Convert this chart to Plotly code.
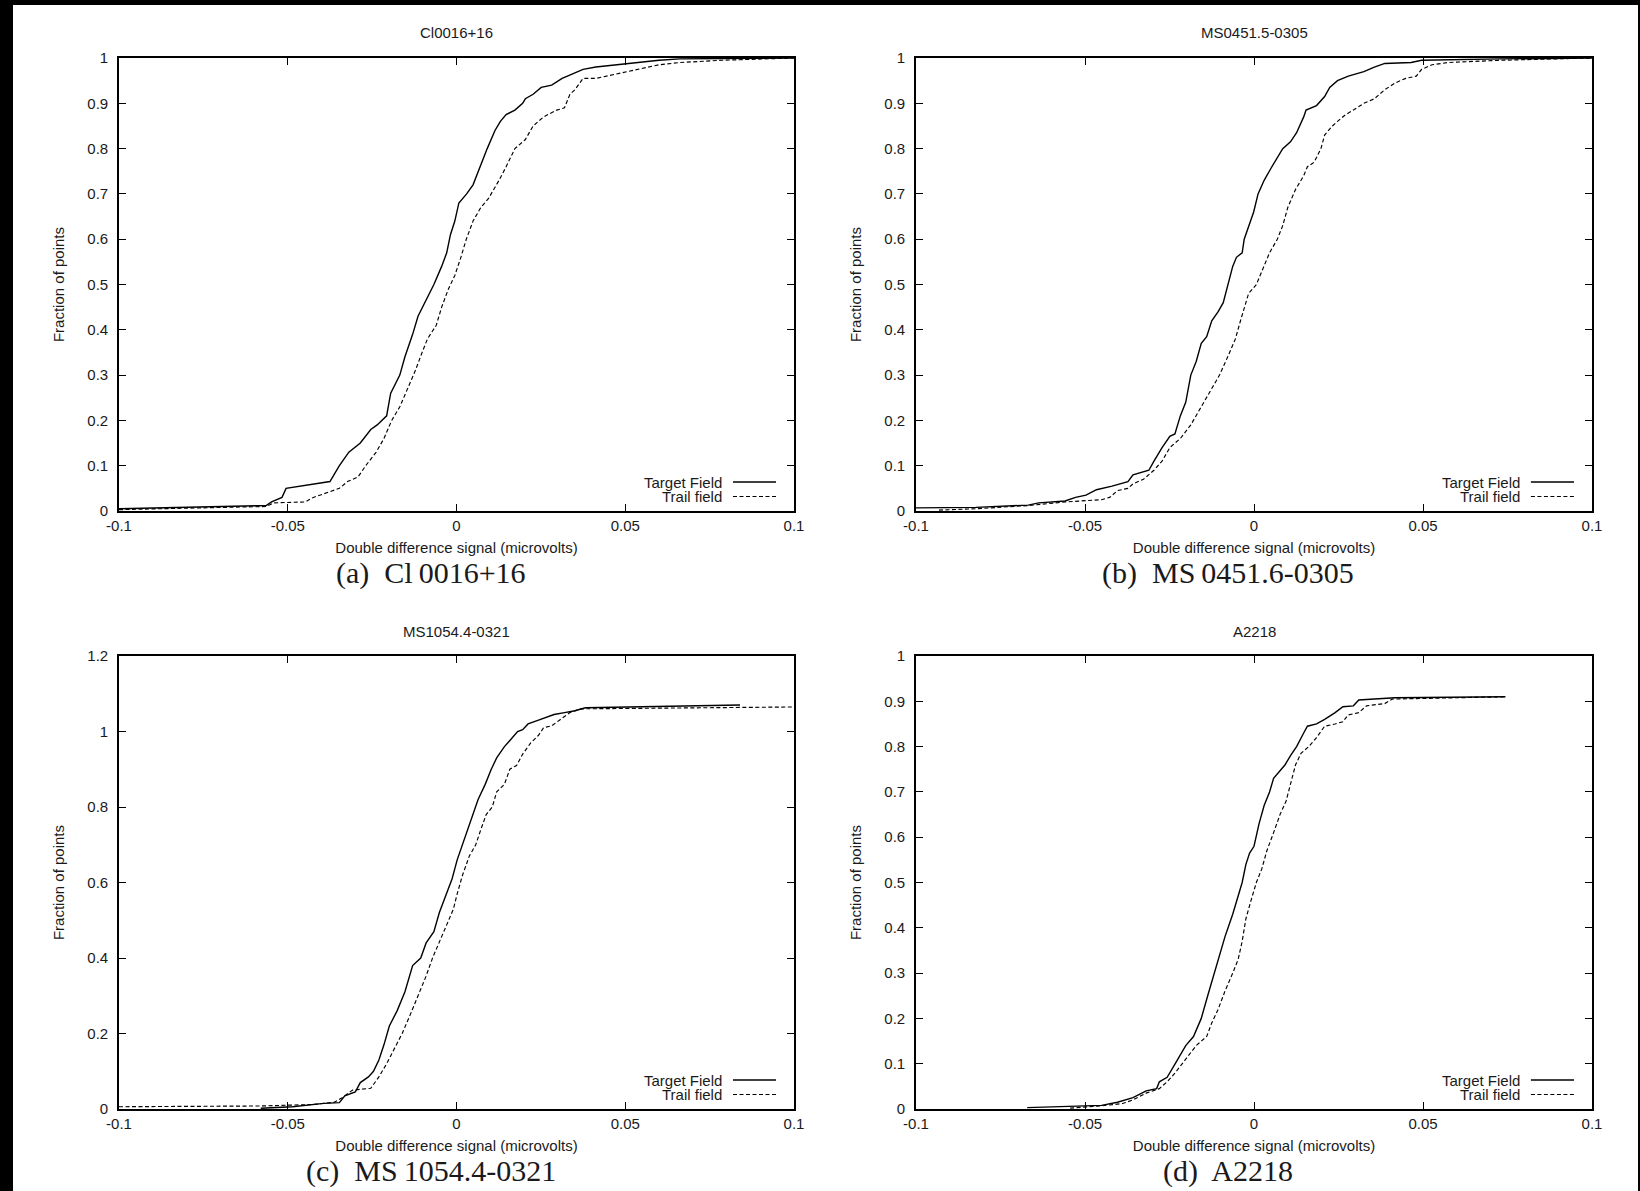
import plotly.graph_objects as go

# ---------------- data ----------------
titles = ["Cl0016+16", "MS0451.5-0305", "MS1054.4-0321", "A2218"]
captions = ["(a)  Cl\u20090016+16", "(b)  MS\u20090451.6-0305", "(c)  MS\u20091054.4-0321", "(d)  A2218"]
series_names = ["Target Field", "Trail field"]
x_title = "Double difference signal (microvolts)"
y_title = "Fraction of points"

# Panel (a) Cl0016+16
a_target_x = [-0.1, -0.0564, -0.0548, -0.0517, -0.0505, -0.0463, -0.0409, -0.0375, -0.0347, -0.0319,
              -0.0285, -0.0254, -0.0235, -0.0207, -0.0195, -0.0168, -0.0153, -0.0130, -0.0114, -0.0086,
              -0.0067, -0.0044, -0.0029, -0.0018, -0.0005, 0.0007, 0.0030, 0.0049, 0.0069, 0.0091,
              0.0114, 0.0130, 0.0147, 0.0173, 0.0196, 0.0204, 0.0227, 0.0251, 0.0282, 0.0313,
              0.0344, 0.0375, 0.0413, 0.0476, 0.0553, 0.0600, 0.0662, 0.1]
a_target_y = [0.005, 0.012, 0.02, 0.03, 0.05, 0.055, 0.06, 0.065, 0.10, 0.13,
              0.15, 0.18, 0.19, 0.21, 0.26, 0.30, 0.34, 0.39, 0.43, 0.47,
              0.50, 0.54, 0.57, 0.61, 0.64, 0.68, 0.70, 0.72, 0.76, 0.80,
              0.84, 0.86, 0.875, 0.885, 0.90, 0.91, 0.92, 0.935, 0.94, 0.955,
              0.965, 0.975, 0.98, 0.985, 0.99, 0.995, 0.998, 1.0]
a_trail_x = [-0.1, -0.0564, -0.0541, -0.0448, -0.0424, -0.0386, -0.0347, -0.0323, -0.0292, -0.0269,
             -0.0238, -0.0215, -0.0192, -0.0168, -0.0145, -0.0122, -0.0102, -0.0086, -0.0060, -0.0044,
             -0.0024, -0.0005, 0.0013, 0.0029, 0.0049, 0.0072, 0.0095, 0.0111, 0.0126, 0.0147,
             0.0173, 0.0204, 0.0227, 0.0258, 0.0297, 0.0320, 0.0336, 0.0351, 0.0375, 0.0413,
             0.0445, 0.0507, 0.0576, 0.0600, 0.0662, 0.0786, 0.1]
a_trail_y = [0.003, 0.01, 0.018, 0.02, 0.03, 0.04, 0.05, 0.065, 0.075, 0.10,
             0.13, 0.16, 0.20, 0.23, 0.27, 0.31, 0.35, 0.38, 0.41, 0.45,
             0.49, 0.52, 0.56, 0.60, 0.64, 0.67, 0.69, 0.71, 0.73, 0.76,
             0.80, 0.82, 0.85, 0.87, 0.885, 0.89, 0.92, 0.93, 0.955, 0.955,
             0.96, 0.97, 0.98, 0.985, 0.99, 0.995, 1.0]

# Panel (b) MS0451.5-0305
b_target_x = [-0.1, -0.0823, -0.0668, -0.0637, -0.0559, -0.0528, -0.0497, -0.0466, -0.0420, -0.0373,
              -0.0358, -0.0311, -0.0296, -0.0272, -0.0249, -0.0234, -0.0218, -0.0202, -0.0187, -0.0171,
              -0.0156, -0.0140, -0.0125, -0.0106, -0.0091, -0.0078, -0.0063, -0.0052, -0.0035, -0.0029,
              -0.0019, -0.0001, 0.0012, 0.0030, 0.0049, 0.0069, 0.0085, 0.0108, 0.0126, 0.0147,
              0.0154, 0.0185, 0.0209, 0.0224, 0.0247, 0.0279, 0.0325, 0.0356, 0.0387, 0.0465,
              0.0496, 0.0729, 0.1]
b_target_y = [0.007, 0.008, 0.013, 0.018, 0.022, 0.03, 0.035, 0.047, 0.055, 0.065,
              0.08, 0.09, 0.11, 0.14, 0.165, 0.17, 0.21, 0.24, 0.30, 0.33,
              0.37, 0.385, 0.42, 0.44, 0.46, 0.50, 0.54, 0.56, 0.57, 0.60,
              0.62, 0.66, 0.70, 0.73, 0.755, 0.78, 0.80, 0.815, 0.835, 0.87,
              0.885, 0.895, 0.915, 0.935, 0.95, 0.96, 0.97, 0.98, 0.988, 0.99,
              0.995, 0.998, 1.0]
b_trail_x = [-0.0932, -0.0823, -0.0668, -0.0559, -0.0451, -0.0427, -0.0404, -0.0373, -0.0358, -0.0327,
             -0.0296, -0.0272, -0.0249, -0.0218, -0.0187, -0.0156, -0.0148, -0.0125, -0.0102, -0.0078,
             -0.0055, -0.0040, -0.0016, 0.0007, 0.0023, 0.0046, 0.0069, 0.0085, 0.0100, 0.0123,
             0.0147, 0.0158, 0.0178, 0.0198, 0.0209, 0.0232, 0.0247, 0.0271, 0.0294, 0.0325,
             0.0356, 0.0387, 0.0418, 0.0449, 0.0480, 0.0496, 0.0527, 0.0573, 0.0729, 0.1]
b_trail_y = [0.002, 0.005, 0.012, 0.02, 0.025, 0.03, 0.045, 0.05, 0.06, 0.07,
             0.09, 0.11, 0.14, 0.16, 0.19, 0.23, 0.24, 0.27, 0.30, 0.34,
             0.38, 0.42, 0.48, 0.50, 0.53, 0.57, 0.60, 0.63, 0.67, 0.71,
             0.74, 0.76, 0.77, 0.80, 0.83, 0.85, 0.86, 0.875, 0.885, 0.90,
             0.91, 0.93, 0.945, 0.955, 0.96, 0.975, 0.985, 0.99, 0.995, 1.0]

# Panel (c) MS1054.4-0321
c_target_x = [-0.0580, -0.0486, -0.0393, -0.0347, -0.0331, -0.0300, -0.0285, -0.0261, -0.0246, -0.0230,
              -0.0215, -0.0199, -0.0176, -0.0153, -0.0130, -0.0106, -0.0090, -0.0067, -0.0051, -0.0029,
              -0.0013, 0.0002, 0.0018, 0.0038, 0.0049, 0.0064, 0.0085, 0.0103, 0.0119, 0.0142,
              0.0162, 0.0181, 0.0196, 0.0212, 0.0243, 0.0289, 0.0320, 0.0351, 0.0382, 0.0507, 0.0840]
c_target_y = [0.002, 0.006, 0.015, 0.017, 0.035, 0.045, 0.07, 0.085, 0.10, 0.13,
              0.17, 0.22, 0.26, 0.31, 0.38, 0.40, 0.44, 0.47, 0.52, 0.57,
              0.61, 0.66, 0.70, 0.75, 0.78, 0.82, 0.86, 0.90, 0.93, 0.96,
              0.98, 1.0, 1.005, 1.02, 1.03, 1.045, 1.05, 1.055, 1.063, 1.065, 1.07]
c_trail_x = [-0.1, -0.0580, -0.0424, -0.0362, -0.0339, -0.0308, -0.0254, -0.0230, -0.0207, -0.0184,
             -0.0161, -0.0137, -0.0114, -0.0091, -0.0071, -0.0052, -0.0029, -0.0009, 0.0002, 0.0018,
             0.0038, 0.0057, 0.0072, 0.0088, 0.0106, 0.0119, 0.0142, 0.0158, 0.0178, 0.0196,
             0.0220, 0.0243, 0.0258, 0.0282, 0.0305, 0.0336, 0.0367, 0.1]
c_trail_y = [0.006, 0.008, 0.012, 0.018, 0.03, 0.05, 0.055, 0.085, 0.12, 0.16,
             0.20, 0.25, 0.30, 0.35, 0.40, 0.44, 0.49, 0.53, 0.57, 0.62,
             0.67, 0.70, 0.74, 0.78, 0.80, 0.84, 0.86, 0.90, 0.91, 0.94,
             0.97, 0.99, 1.01, 1.015, 1.03, 1.05, 1.06, 1.065]

# Panel (d) A2218
d_target_x = [-0.0671, -0.0513, -0.0451, -0.0404, -0.0358, -0.0319, -0.0288, -0.0280, -0.0257, -0.0233,
              -0.0202, -0.0179, -0.0156, -0.0137, -0.0117, -0.0102, -0.0086, -0.0063, -0.0047, -0.0035,
              -0.0024, -0.0013, 0.0000, 0.0015, 0.0030, 0.0046, 0.0058, 0.0074, 0.0092, 0.0108,
              0.0126, 0.0147, 0.0158, 0.0185, 0.0209, 0.0240, 0.0263, 0.0294, 0.0310, 0.0356,
              0.0418, 0.0744]
d_target_y = [0.003, 0.006, 0.008, 0.015, 0.025, 0.04, 0.045, 0.06, 0.07, 0.10,
              0.14, 0.16, 0.20, 0.25, 0.30, 0.34, 0.38, 0.43, 0.47, 0.50,
              0.54, 0.565, 0.58, 0.63, 0.67, 0.70, 0.73, 0.745, 0.76, 0.78,
              0.80, 0.83, 0.845, 0.85, 0.86, 0.875, 0.888, 0.89, 0.903, 0.905,
              0.908, 0.91]
d_trail_x = [-0.0544, -0.0451, -0.0389, -0.0358, -0.0319, -0.0280, -0.0257, -0.0233, -0.0202, -0.0171,
             -0.0140, -0.0125, -0.0106, -0.0086, -0.0063, -0.0047, -0.0035, -0.0024, -0.0009, 0.0007,
             0.0023, 0.0038, 0.0058, 0.0077, 0.0095, 0.0108, 0.0123, 0.0139, 0.0162, 0.0185,
             0.0209, 0.0240, 0.0263, 0.0279, 0.0310, 0.0333, 0.0387, 0.0410, 0.0744]
d_trail_y = [0.002, 0.007, 0.012, 0.02, 0.035, 0.045, 0.06, 0.08, 0.11, 0.14,
             0.16, 0.19, 0.22, 0.26, 0.30, 0.33, 0.37, 0.42, 0.46, 0.50,
             0.53, 0.57, 0.61, 0.65, 0.68, 0.72, 0.76, 0.785, 0.80, 0.82,
             0.845, 0.85, 0.855, 0.87, 0.875, 0.89, 0.895, 0.905, 0.91]

x_ticks = [-0.1, -0.05, 0, 0.05, 0.1]
x_tick_text = ["-0.1", "-0.05", "0", "0.05", "0.1"]
y_ticks_frac = [0, 0.1, 0.2, 0.3, 0.4, 0.5, 0.6, 0.7, 0.8, 0.9, 1]
y_tick_frac_text = ["0", "0.1", "0.2", "0.3", "0.4", "0.5", "0.6", "0.7", "0.8", "0.9", "1"]
y_ticks_c = [0, 0.2, 0.4, 0.6, 0.8, 1.0, 1.2]
y_tick_c_text = ["0", "0.2", "0.4", "0.6", "0.8", "1", "1.2"]
y_ranges = [[0, 1], [0, 1], [0, 1.2], [0, 1]]

panels = [
    (a_target_x, a_target_y, a_trail_x, a_trail_y),
    (b_target_x, b_target_y, b_trail_x, b_trail_y),
    (c_target_x, c_target_y, c_trail_x, c_trail_y),
    (d_target_x, d_target_y, d_trail_x, d_trail_y),
]

# ---------------- layout geometry ----------------
W, H = 1640, 1191
col_px = [(119, 794), (916, 1592)]
row_px = [(58, 511), (656, 1109)]

SANS = "Liberation Sans, Arial, Helvetica, sans-serif"
SERIF = "Liberation Serif, Times New Roman, serif"
INK = "#1a1a1a"
FS = 15

fig = go.Figure()
layout = dict(
    width=W, height=H,
    margin=dict(l=0, r=0, t=0, b=0),
    paper_bgcolor="white", plot_bgcolor="white",
    showlegend=False,
    font=dict(family=SANS, size=FS, color=INK),
)
annotations = []
shapes = []

for i, (tx, ty, dx, dy) in enumerate(panels):
    r, c = divmod(i, 2)
    k = "" if i == 0 else str(i + 1)
    xa, ya = "x" + k, "y" + k
    x0p, x1p = col_px[c]
    y0p, y1p = row_px[r]
    xdom = [x0p / W, x1p / W]
    ydom = [1 - y1p / H, 1 - y0p / H]

    fig.add_trace(go.Scatter(x=tx, y=ty, mode="lines", name=series_names[0],
                             line=dict(color="black", width=1.4), xaxis=xa, yaxis=ya))
    fig.add_trace(go.Scatter(x=dx, y=dy, mode="lines", name=series_names[1],
                             line=dict(color="black", width=1.15, dash="4px,2.5px"), xaxis=xa, yaxis=ya))

    if i == 2:
        yt, ytt = y_ticks_c, y_tick_c_text
    else:
        yt, ytt = y_ticks_frac, y_tick_frac_text

    layout["xaxis" + k] = dict(
        domain=xdom, anchor=ya, range=[-0.1, 0.1],
        tickvals=x_ticks, ticktext=x_tick_text,
        ticks="inside", ticklen=7, tickwidth=1, tickcolor="black",
        showline=True, linecolor="black", linewidth=1.6, mirror="ticks",
        showgrid=False, zeroline=False, automargin=False,
        tickfont=dict(family=SANS, size=FS, color=INK),
        title=dict(text=x_title, font=dict(family=SANS, size=FS, color=INK), standoff=10),
    )
    layout["yaxis" + k] = dict(
        domain=ydom, anchor=xa, range=y_ranges[i],
        tickvals=yt, ticktext=ytt,
        ticks="inside", ticklen=7, tickwidth=1, tickcolor="black",
        showline=True, linecolor="black", linewidth=1.6, mirror="ticks",
        showgrid=False, zeroline=False, automargin=False,
        tickfont=dict(family=SANS, size=FS, color=INK),
        ticklabelstandoff=6,
        title=dict(text=y_title, font=dict(family=SANS, size=FS, color=INK), standoff=19),
    )

    dref = xa + " domain"
    yref = ya + " domain"
    # panel title
    annotations.append(dict(text=titles[i], xref=dref, yref=yref, x=0.5, y=1 + 25 / 453,
                            xanchor="center", yanchor="middle", showarrow=False,
                            font=dict(family=SANS, size=FS, color=INK)))
    # caption below panel (centred on the sub-figure box, slightly left of the axes)
    annotations.append(dict(text=captions[i], xref=dref, yref=yref, x=0.5 - 26 / 675, y=-62 / 453,
                            xanchor="center", yanchor="middle", showarrow=False,
                            font=dict(family=SERIF, size=30, color=INK)))
    # key (gnuplot style: text right-aligned, sample to the right)
    for j, (name, dash) in enumerate(zip(series_names, ["solid", "4px,2.5px"])):
        yy = (29 - 14.5 * j) / 453
        annotations.append(dict(text=name, xref=dref, yref=yref, x=1 - 70 / 675, y=yy,
                                xanchor="right", yanchor="middle", showarrow=False,
                                font=dict(family=SANS, size=FS, color=INK)))
        shapes.append(dict(type="line", xref=dref, yref=yref,
                           x0=1 - 61 / 675, x1=1 - 18 / 675, y0=yy, y1=yy,
                           line=dict(color="black", width=1.4 if j == 0 else 1.15, dash=dash)))

# black scan border of the reference image
for (x0, x1, y0, y1) in [(0, 13, 0, H), (0, W, 0, 5), (W - 2, W, 0, H)]:
    shapes.append(dict(type="rect", xref="paper", yref="paper",
                       x0=x0 / W, x1=x1 / W, y0=1 - y1 / H, y1=1 - y0 / H,
                       fillcolor="black", line=dict(width=0), layer="above"))

layout["annotations"] = annotations
layout["shapes"] = shapes
fig.update_layout(**layout)
fig.write_html("out.html")
